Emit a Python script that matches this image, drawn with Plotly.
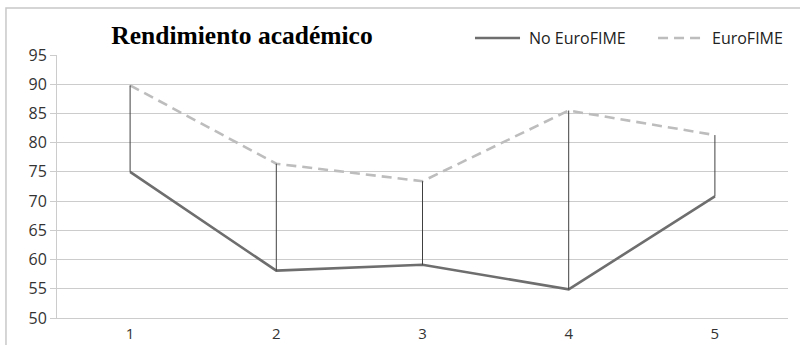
import plotly.graph_objects as go

# Academic performance per group, by session
categories = [1, 2, 3, 4, 5]
no_eurofime = [75.0, 58.1, 59.1, 54.9, 70.8]
eurofime = [89.8, 76.4, 73.4, 85.5, 81.3]
y_ticks = [50, 55, 60, 65, 70, 75, 80, 85, 90, 95]
series_names = ["No EuroFIME", "EuroFIME"]

solid = dict(color="#6e6e6e", width=2.6)
dashed = dict(color="#bdbdbd", width=2.6, dash="10px,6px")

# High-low connectors between the two series at each category
hl_x, hl_y = [], []
for c, lo, hi in zip(categories, no_eurofime, eurofime):
    hl_x += [c, c, None]
    hl_y += [lo, hi, None]

fig = go.Figure()
fig.add_trace(go.Scatter(x=categories, y=no_eurofime, mode="lines",
                         name=series_names[0], line=solid))
fig.add_trace(go.Scatter(x=categories, y=eurofime, mode="lines",
                         name=series_names[1], line=dashed))
fig.add_trace(go.Scatter(x=hl_x, y=hl_y, mode="lines", hoverinfo="skip",
                         line=dict(color="#404040", width=1)))

# Outer chart frame
fig.add_shape(type="rect", xref="paper", yref="paper",
              x0=-0.0698, x1=1.03, y0=-0.2, y1=1.1787,
              line=dict(color="#c8c8c8", width=1.5), layer="below")

# Legend placed above the plot, right side
legend_y = 1.0646
for (x0, x1, xt), name, style in zip(
        [(0.5718, 0.6334, 0.643), (0.8222, 0.8865, 0.8933)], series_names, [solid, dashed]):
    fig.add_shape(type="line", xref="paper", yref="paper",
                  x0=x0, x1=x1, y0=legend_y, y1=legend_y, line=style)
    fig.add_annotation(xref="paper", yref="paper", x=xt, y=legend_y, text=name,
                       showarrow=False, xanchor="left", yanchor="middle",
                       font=dict(family="Open Sans", size=16, color="#222222"))

fig.update_layout(
    width=800, height=345,
    margin=dict(l=57, r=12, t=55, b=27),
    paper_bgcolor="white", plot_bgcolor="white",
    font=dict(family="Open Sans", size=16, color="#333333"),
    title=dict(text="<b>Rendimiento académico</b>", x=0.3025, y=0.898,
               xanchor="center", yanchor="middle",
               font=dict(family="Liberation Serif", size=25.5, color="black")),
    showlegend=False,
)
fig.update_xaxes(range=[0.5, 5.5], tickvals=categories, ticktext=[str(c) for c in categories],
                 showgrid=False, zeroline=False, showline=True, linecolor="#cccccc",
                 linewidth=1, ticks="", ticklabelstandoff=2, tickfont=dict(size=15),
                 automargin=False)
fig.update_yaxes(range=[50, 95], tickvals=y_ticks, showgrid=True, gridcolor="#cccccc",
                 gridwidth=1, zeroline=False, showline=True, linecolor="#cccccc",
                 linewidth=1, ticks="outside", ticklen=6, tickcolor="#cccccc",
                 automargin=False)

fig.write_html("out.html")
